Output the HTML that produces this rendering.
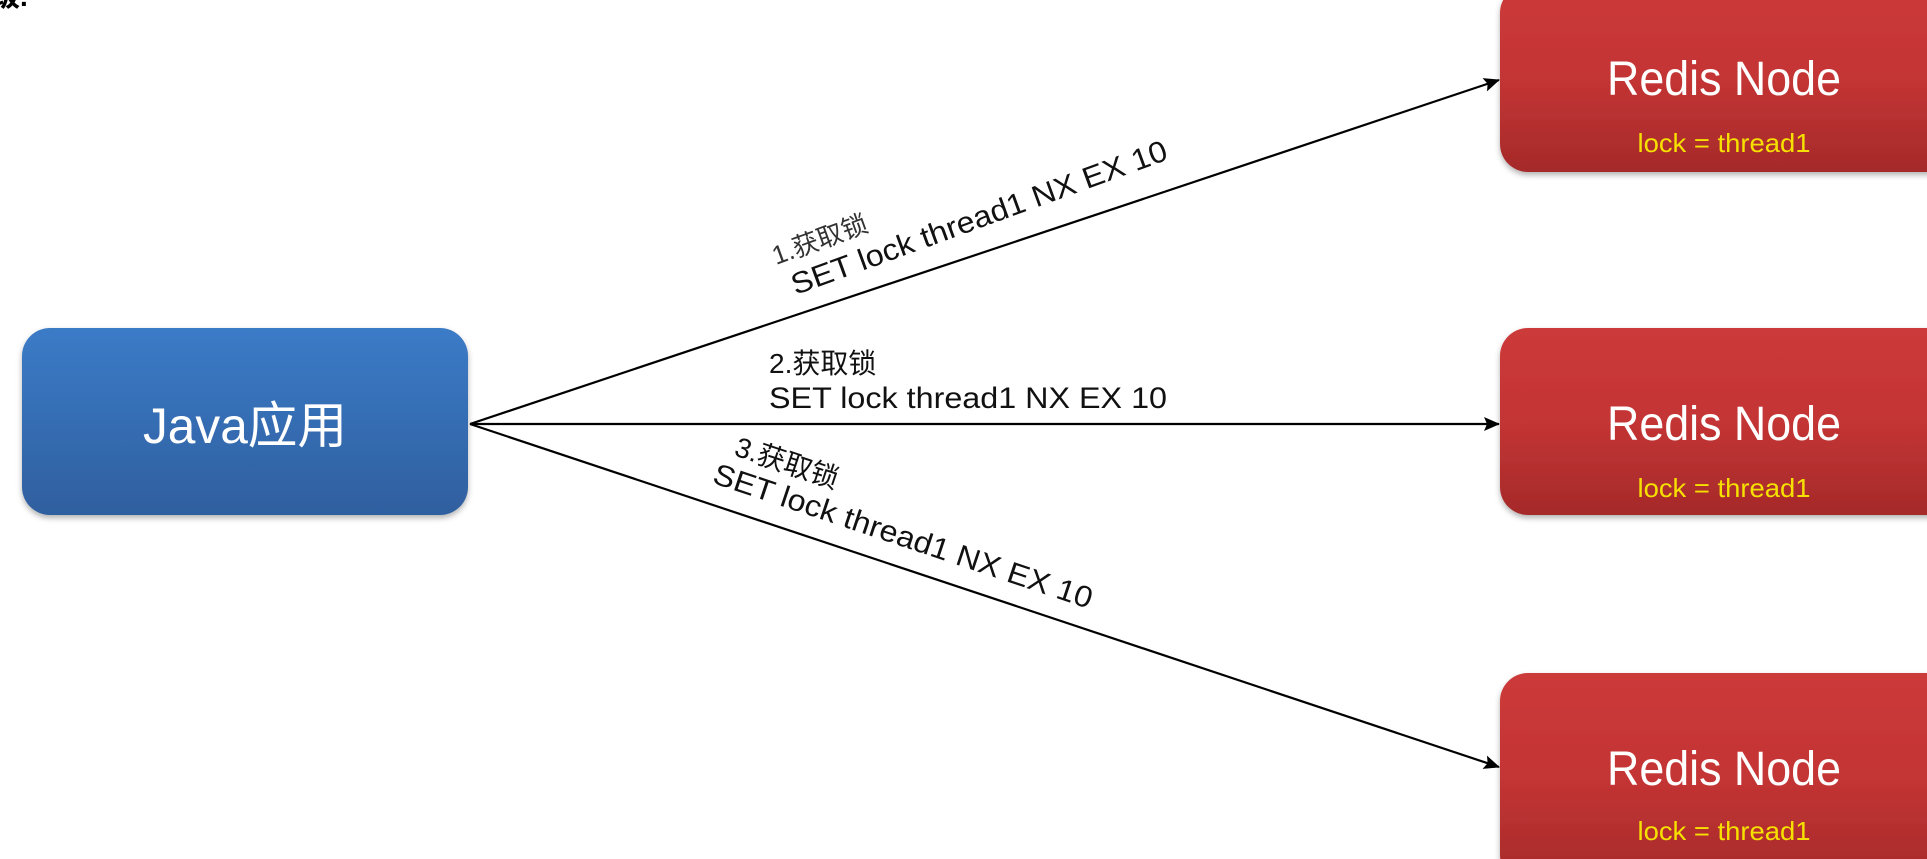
<!DOCTYPE html>
<html><head><meta charset="utf-8"><style>
html,body{margin:0;padding:0;background:#fff;width:1927px;height:859px;overflow:hidden}
svg{display:block}
</style></head><body>
<svg width="1927" height="859" viewBox="0 0 1927 859" xmlns="http://www.w3.org/2000/svg">
<defs>
<linearGradient id="b" x1="0" y1="0" x2="0" y2="1"><stop offset="0" stop-color="#3b7bc7"/><stop offset="1" stop-color="#2f5f9f"/></linearGradient>
<linearGradient id="r" x1="0" y1="0" x2="0" y2="1"><stop offset="0" stop-color="#cc3a3a"/><stop offset="0.5" stop-color="#c43434"/><stop offset="1" stop-color="#a52a2a"/></linearGradient>
<filter id="s" x="-5%" y="-5%" width="110%" height="115%"><feDropShadow dx="0" dy="3" stdDeviation="3" flood-color="#000" flood-opacity="0.3"/></filter>
<marker id="a" markerWidth="16" markerHeight="14" refX="15" refY="7" orient="auto" markerUnits="userSpaceOnUse"><path d="M0,0 L16,7 L0,14 L3,7 Z" fill="#000"/></marker>
</defs>
<text x="-8" y="6" font-family="Liberation Sans, Noto Sans CJK SC, sans-serif" font-size="28" font-weight="bold" fill="#000">级.</text>
<rect x="22" y="328" width="446" height="187" rx="28" fill="url(#b)" filter="url(#s)"/>
<text x="245" y="443" text-anchor="middle" font-family="Liberation Sans, Noto Sans CJK SC, sans-serif" font-size="50" fill="#fff" textLength="204" lengthAdjust="spacingAndGlyphs">Java应用</text>
<g filter="url(#s)">
<rect x="1500" y="-15" width="460" height="187" rx="28" fill="url(#r)"/>
<rect x="1500" y="328" width="460" height="187" rx="28" fill="url(#r)"/>
<rect x="1500" y="673" width="460" height="210" rx="28" fill="url(#r)"/>
</g>
<g font-family="Liberation Sans, sans-serif" text-anchor="middle">
<text x="1724" y="95" font-size="48" fill="#fff" textLength="234" lengthAdjust="spacingAndGlyphs">Redis Node</text>
<text x="1724" y="152" font-size="26" fill="#f5e000" textLength="173" lengthAdjust="spacingAndGlyphs">lock = thread1</text>
<text x="1724" y="440" font-size="48" fill="#fff" textLength="234" lengthAdjust="spacingAndGlyphs">Redis Node</text>
<text x="1724" y="497" font-size="26" fill="#f5e000" textLength="173" lengthAdjust="spacingAndGlyphs">lock = thread1</text>
<text x="1724" y="785" font-size="48" fill="#fff" textLength="234" lengthAdjust="spacingAndGlyphs">Redis Node</text>
<text x="1724" y="840" font-size="26" fill="#f5e000" textLength="173" lengthAdjust="spacingAndGlyphs">lock = thread1</text>
</g>
<g stroke="#000" stroke-width="2.2" fill="none">
<line x1="470" y1="424" x2="1499" y2="80" marker-end="url(#a)"/>
<line x1="470" y1="424" x2="1499" y2="424" marker-end="url(#a)"/>
<line x1="470" y1="424" x2="1499" y2="767" marker-end="url(#a)"/>
</g>
<g font-family="Liberation Sans, Noto Sans CJK SC, sans-serif" font-size="30" fill="#111">
<g transform="translate(776,265) rotate(-20)"><text x="0" y="0" font-size="26" fill="#333">1.获取锁</text><text x="8" y="35" textLength="398" lengthAdjust="spacingAndGlyphs">SET lock thread1 NX EX 10</text></g>
<text x="769" y="373" font-size="28">2.获取锁</text>
<text x="769" y="408" textLength="398" lengthAdjust="spacingAndGlyphs">SET lock thread1 NX EX 10</text>
<g transform="translate(733,455) rotate(18.5)"><text x="0" y="0" font-size="28">3.获取锁</text><text x="-12" y="33" textLength="398" lengthAdjust="spacingAndGlyphs">SET lock thread1 NX EX 10</text></g>
</g>
</svg>
</body></html>
